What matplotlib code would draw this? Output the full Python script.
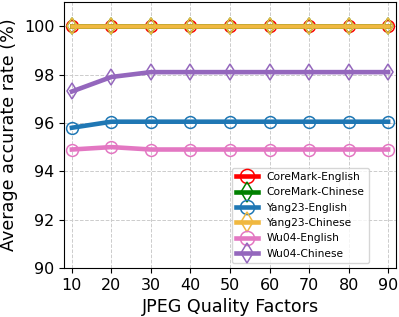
import matplotlib
matplotlib.use("Agg")
import matplotlib.pyplot as plt

quality = [10, 20, 30, 40, 50, 60, 70, 80, 90]
coremark_en = [100, 100, 100, 100, 100, 100, 100, 100, 100]
coremark_zh = [100, 100, 100, 100, 100, 100, 100, 100, 100]
yang23_en = [95.8, 96.05, 96.05, 96.05, 96.05, 96.05, 96.05, 96.05, 96.05]
yang23_zh = [100, 100, 100, 100, 100, 100, 100, 100, 100]
wu04_en = [94.9, 95.0, 94.9, 94.9, 94.9, 94.9, 94.9, 94.9, 94.9]
wu04_zh = [97.3, 97.9, 98.1, 98.1, 98.1, 98.1, 98.1, 98.1, 98.1]

series = [
    ("CoreMark-English", coremark_en, "red", "o"),
    ("CoreMark-Chinese", coremark_zh, "green", "d"),
    ("Yang23-English", yang23_en, "#1f77b4", "o"),
    ("Yang23-Chinese", yang23_zh, "#f0b840", "d"),
    ("Wu04-English", wu04_en, "#e377c2", "o"),
    ("Wu04-Chinese", wu04_zh, "#9467bd", "d"),
]

fig = plt.figure(figsize=(3.99, 3.17), dpi=100)
ax = fig.add_axes([64/399, 1-268/317, (396-64)/399, (268-2)/317])

for name, vals, col, mk in series:
    ax.plot(quality, vals, color=col, marker=mk, markersize=8.5,
            markerfacecolor="none", markeredgewidth=1.1, linewidth=3.3, label=name)

ax.set_xlim(8, 92)
ax.set_ylim(90, 101)
ax.set_xticks(quality)
ax.set_yticks([90, 92, 94, 96, 98, 100])
ax.tick_params(labelsize=11.5)
ax.grid(True, linestyle="--", color="#cccccc", linewidth=0.7)
ax.set_xlabel("JPEG Quality Factors", fontsize=12.6)
ax.set_ylabel("Average accurate rate (%)", fontsize=12.6)
ax.legend(loc="lower right", bbox_to_anchor=(0.919, 0.019), borderaxespad=0,
          fontsize=7.7, markerscale=1.2, handlelength=2.1, labelspacing=0.5)

fig.savefig("out.png", dpi=100)
